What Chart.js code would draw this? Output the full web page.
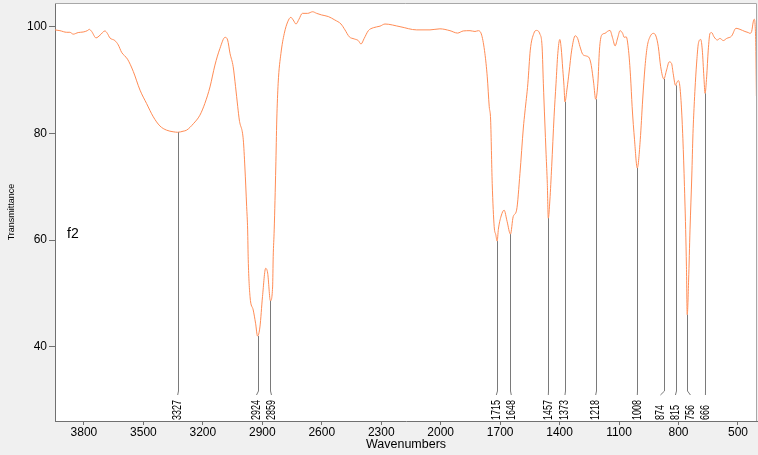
<!DOCTYPE html>
<html>
<head>
<meta charset="utf-8">
<title>f2</title>
<script src="https://cdn.jsdelivr.net/npm/chart.js@4.4.0/dist/chart.umd.min.js"></script>
<style>
  html, body { margin: 0; padding: 0; background: #f0f0f0; }
  #wrap { width: 758px; height: 455px; }
</style>
</head>
<body>
<div id="wrap"><canvas id="spectrum"></canvas></div>
<script>
const wavenumbers = [
  3946, 3921, 3887, 3871, 3854, 3829, 3804, 3783, 3773, 3761, 3739, 3719, 3694, 3682, 3669, 3644,
  3627, 3610, 3580, 3551, 3517, 3484, 3450, 3417, 3383, 3350, 3327, 3300, 3282, 3248, 3215, 3190,
  3164, 3139, 3114, 3088, 3075, 3063, 3047, 3035, 3024, 3016, 2996, 2988, 2979, 2974, 2971, 2962,
  2946, 2934, 2924, 2912, 2899, 2883, 2873, 2859, 2848, 2845, 2840, 2832, 2827, 2820, 2806, 2789,
  2772, 2756, 2744, 2730, 2715, 2698, 2671, 2646, 2626, 2601, 2567, 2534, 2503, 2483, 2461, 2436,
  2416, 2402, 2386, 2365, 2340, 2306, 2281, 2205, 2121, 2054, 2004, 1953, 1915, 1886, 1852, 1827,
  1810, 1793, 1777, 1765, 1755, 1748, 1740, 1730, 1722, 1715, 1709, 1695, 1680, 1665, 1648, 1634,
  1617, 1600, 1583, 1575, 1560, 1548, 1530, 1518, 1499, 1488, 1482, 1475, 1468, 1462, 1457, 1449,
  1440, 1428, 1418, 1409, 1399, 1392, 1384, 1378, 1373, 1362, 1352, 1339, 1321, 1309, 1297, 1283,
  1265, 1250, 1240, 1228, 1218, 1207, 1199, 1188, 1171, 1159, 1146, 1132, 1120, 1107, 1095, 1082,
  1074, 1064, 1052, 1042, 1034, 1022, 1008, 993, 981, 969, 958, 944, 927, 914, 902, 890,
  874, 860, 847, 835, 827, 815, 810, 801, 793, 784, 776, 768, 764, 760, 756, 749,
  742, 733, 727, 720, 715, 707, 700, 688, 680, 672, 666, 658, 650, 641, 633, 621,
  604, 591, 574, 557, 532, 510, 490, 465, 448, 440, 431, 423, 418, 413, 410, 407,
]
const transmittance = [
  99.4, 99.25, 98.95, 98.95, 98.6, 98.9, 99.0, 99.25, 99.5, 99.1, 97.9, 98.4, 99.2, 98.75, 97.9, 97.4,
  96.6, 95.2, 93.9, 91.6, 88.1, 85.6, 83.1, 81.4, 80.6, 80.3, 80.2, 80.4, 80.6, 81.8, 83.4, 85.6,
  88.7, 92.8, 95.9, 98.0, 97.5, 95.0, 92.5, 88.75, 85.0, 82.5, 78.8, 73.7, 66.3, 61.9, 56.3, 49.4,
  46.9, 44.4, 42.0, 43.7, 49.4, 54.7, 53.8, 48.6, 51.2, 56.9, 61.9, 73.7, 82.5, 89.4, 95.0, 98.75,
  100.9, 101.75, 101.25, 100.5, 101.4, 102.5, 102.5, 102.8, 102.5, 102.2, 101.9, 101.25, 100.5, 99.4, 98.1, 97.7,
  97.4, 96.75, 97.8, 99.25, 99.8, 100.1, 100.5, 100.0, 99.4, 99.4, 99.6, 99.25, 98.8, 99.2, 99.25, 99.1,
  99.25, 98.4, 95.0, 90.6, 85.0, 82.5, 70.6, 62.5, 61.0, 59.8, 62.0, 64.5, 65.6, 63.5, 61.1, 64.4,
  65.6, 72.5, 81.0, 84.0, 89.4, 95.6, 98.75, 99.3, 98.6, 96.0, 89.4, 82.5, 76.0, 70.6, 64.1, 67.5,
  73.75, 83.1, 89.4, 95.0, 97.6, 96.0, 92.0, 89.0, 85.9, 88.5, 91.5, 95.6, 98.3, 97.8, 96.25, 94.8,
  94.5, 94.1, 92.7, 89.4, 86.4, 89.4, 95.6, 98.4, 98.75, 99.1, 99.3, 97.8, 96.4, 97.9, 99.25, 98.75,
  98.0, 98.1, 95.5, 90.6, 85.0, 78.8, 73.5, 78.8, 86.25, 92.5, 96.25, 98.1, 98.75, 98.25, 96.25, 92.5,
  90.2, 91.9, 93.4, 93.1, 91.25, 89.0, 89.4, 89.9, 88.75, 84.0, 77.0, 67.5, 62.0, 55.0, 46.0, 52.5,
  61.9, 72.0, 80.0, 86.0, 89.5, 94.0, 96.8, 97.6, 95.6, 90.6, 87.5, 90.6, 95.6, 98.75, 98.9, 98.1,
  97.5, 97.8, 97.4, 97.8, 98.25, 99.7, 99.5, 99.1, 98.9, 98.75, 99.1, 100.9, 101.4, 100.0, 96.25, 87.0,
]

const peakWavenumbers = [3327, 2924, 2859, 1715, 1648, 1457, 1373, 1218, 1008, 874, 815, 756, 666]
const peakTransmittance = [80.2, 42.0, 48.6, 59.8, 61.1, 64.1, 85.9, 86.4, 73.5, 90.2, 89.0, 46.0, 87.5]

const xTicks = [3800, 3500, 3200, 2900, 2600, 2300, 2000, 1700, 1400, 1100, 800, 500]
const yTicks = [40, 60, 80, 100]
const sampleName = 'f2'

const FONT = '"Liberation Sans", Arial, sans-serif'
const LABEL_GAP = 15

// spread peak labels into groups so neighbours keep LABEL_GAP apart
function spreadLabels(px) {
  let groups = px.map((p, i) => ({ idx: [i], center: p })).sort((a, b) => a.center - b.center)
  let merged = true
  while (merged) {
    merged = false
    for (let k = 1; k < groups.length; k++) {
      const prev = groups[k - 1]
      const cur = groups[k]
      const prevRight = prev.center + (prev.idx.length - 1) * LABEL_GAP / 2
      const curLeft = cur.center - (cur.idx.length - 1) * LABEL_GAP / 2
      if (curLeft - prevRight < LABEL_GAP) {
        const idx = prev.idx.concat(cur.idx)
        const center = idx.reduce((s, i) => s + px[i], 0) / idx.length
        groups.splice(k - 1, 2, { idx, center })
        merged = true
        break
      }
    }
  }
  const out = []
  groups.forEach(g => {
    g.idx.forEach((i, j) => {
      out[i] = g.center + (j - (g.idx.length - 1) / 2) * LABEL_GAP
    })
  })
  return out
}

const spectrumDecor = {
  id: 'spectrumDecor',
  beforeDraw(chart) {
    const { ctx, chartArea: a } = chart
    ctx.save()
    ctx.fillStyle = '#f0f0f0'
    ctx.fillRect(0, 0, chart.width, chart.height)
    ctx.fillStyle = '#ffffff'
    ctx.fillRect(a.left, a.top, a.right - a.left, a.bottom - a.top)
    ctx.restore()
  },
  afterDraw(chart) {
    const { ctx, chartArea: a, scales: { x, y } } = chart
    ctx.save()

    // top / right frame
    ctx.strokeStyle = '#a8a8a8'
    ctx.lineWidth = 1
    ctx.beginPath()
    ctx.moveTo(a.left, a.top + 0.5)
    ctx.lineTo(a.right - 0.5, a.top + 0.5)
    ctx.lineTo(a.right - 0.5, a.bottom)
    ctx.stroke()

    // peak markers
    const px = peakWavenumbers.map(w => x.getPixelForValue(w))
    const lx = spreadLabels(px)
    const bendTop = a.bottom - 30
    const bendBottom = a.bottom - 26
    ctx.strokeStyle = '#7a7a7a'
    ctx.fillStyle = '#000000'
    ctx.font = '12px ' + FONT
    ctx.textAlign = 'left'
    ctx.textBaseline = 'middle'
    peakWavenumbers.forEach((w, i) => {
      const xp = Math.round(px[i]) + 0.5
      const yp = y.getPixelForValue(peakTransmittance[i])
      ctx.beginPath()
      ctx.moveTo(xp, yp)
      ctx.lineTo(xp, bendTop)
      ctx.lineTo(lx[i], bendBottom)
      ctx.stroke()

      ctx.save()
      ctx.translate(lx[i], a.bottom - 1)
      ctx.rotate(-Math.PI / 2)
      ctx.scale(0.75, 1)
      ctx.fillText(String(w), 0, 0)
      ctx.restore()
    })

    // sample name
    ctx.fillStyle = '#000000'
    ctx.font = '14px ' + FONT
    ctx.textBaseline = 'alphabetic'
    ctx.fillText(sampleName, a.left + 12, 238)

    ctx.restore()
  },
}

const points = wavenumbers.map((w, i) => ({ x: w, y: transmittance[i] }))

new Chart(document.getElementById('spectrum'), {
  type: 'line',
  data: {
    datasets: [
      {
        label: sampleName,
        data: points,
        borderColor: '#ff8c55',
        borderWidth: 1,
        pointRadius: 0,
        cubicInterpolationMode: 'monotone',
        fill: false,
      },
    ],
  },
  options: {
    responsive: true,
    maintainAspectRatio: false,
    animation: false,
    layout: { autoPadding: false, padding: { top: 3, right: 1, left: 0, bottom: 0 } },
    plugins: {
      legend: { display: false },
      tooltip: { enabled: false },
    },
    scales: {
      x: {
        type: 'linear',
        reverse: true,
        min: 404,
        max: 3946,
        afterBuildTicks: scale => {
          scale.ticks = xTicks.map(v => ({ value: v }))
        },
        afterFit: scale => {
          scale.height = 34
          scale.paddingLeft = 0
          scale.paddingRight = 0
        },
        ticks: {
          color: '#000000',
          font: { family: FONT, size: 12 },
          padding: 0,
          maxRotation: 0,
          autoSkip: false,
          callback: v => String(v),
        },
        grid: {
          drawOnChartArea: false,
          drawTicks: true,
          tickLength: 4,
          color: '#707070',
        },
        border: { display: true, color: '#707070' },
        title: {
          display: true,
          text: 'Wavenumbers',
          color: '#000000',
          font: { family: FONT, size: 12.5 },
          padding: { top: 0, bottom: 3 },
        },
      },
      y: {
        type: 'linear',
        min: 26.07,
        max: 104.44,
        afterBuildTicks: scale => {
          scale.ticks = yTicks.map(v => ({ value: v }))
        },
        afterFit: scale => {
          scale.width = 55
          scale.paddingTop = 0
          scale.paddingBottom = 0
        },
        ticks: {
          color: '#000000',
          font: { family: FONT, size: 12 },
          padding: 2,
          callback: v => String(v),
        },
        grid: {
          drawOnChartArea: false,
          drawTicks: true,
          tickLength: 6,
          color: '#707070',
        },
        border: { display: true, color: '#707070' },
        title: {
          display: true,
          text: 'Transmittance',
          color: '#000000',
          font: { family: FONT, size: 9 },
          padding: { top: 6, bottom: 0 },
        },
      },
    },
  },
  plugins: [spectrumDecor],
})
</script>
</body>
</html>
